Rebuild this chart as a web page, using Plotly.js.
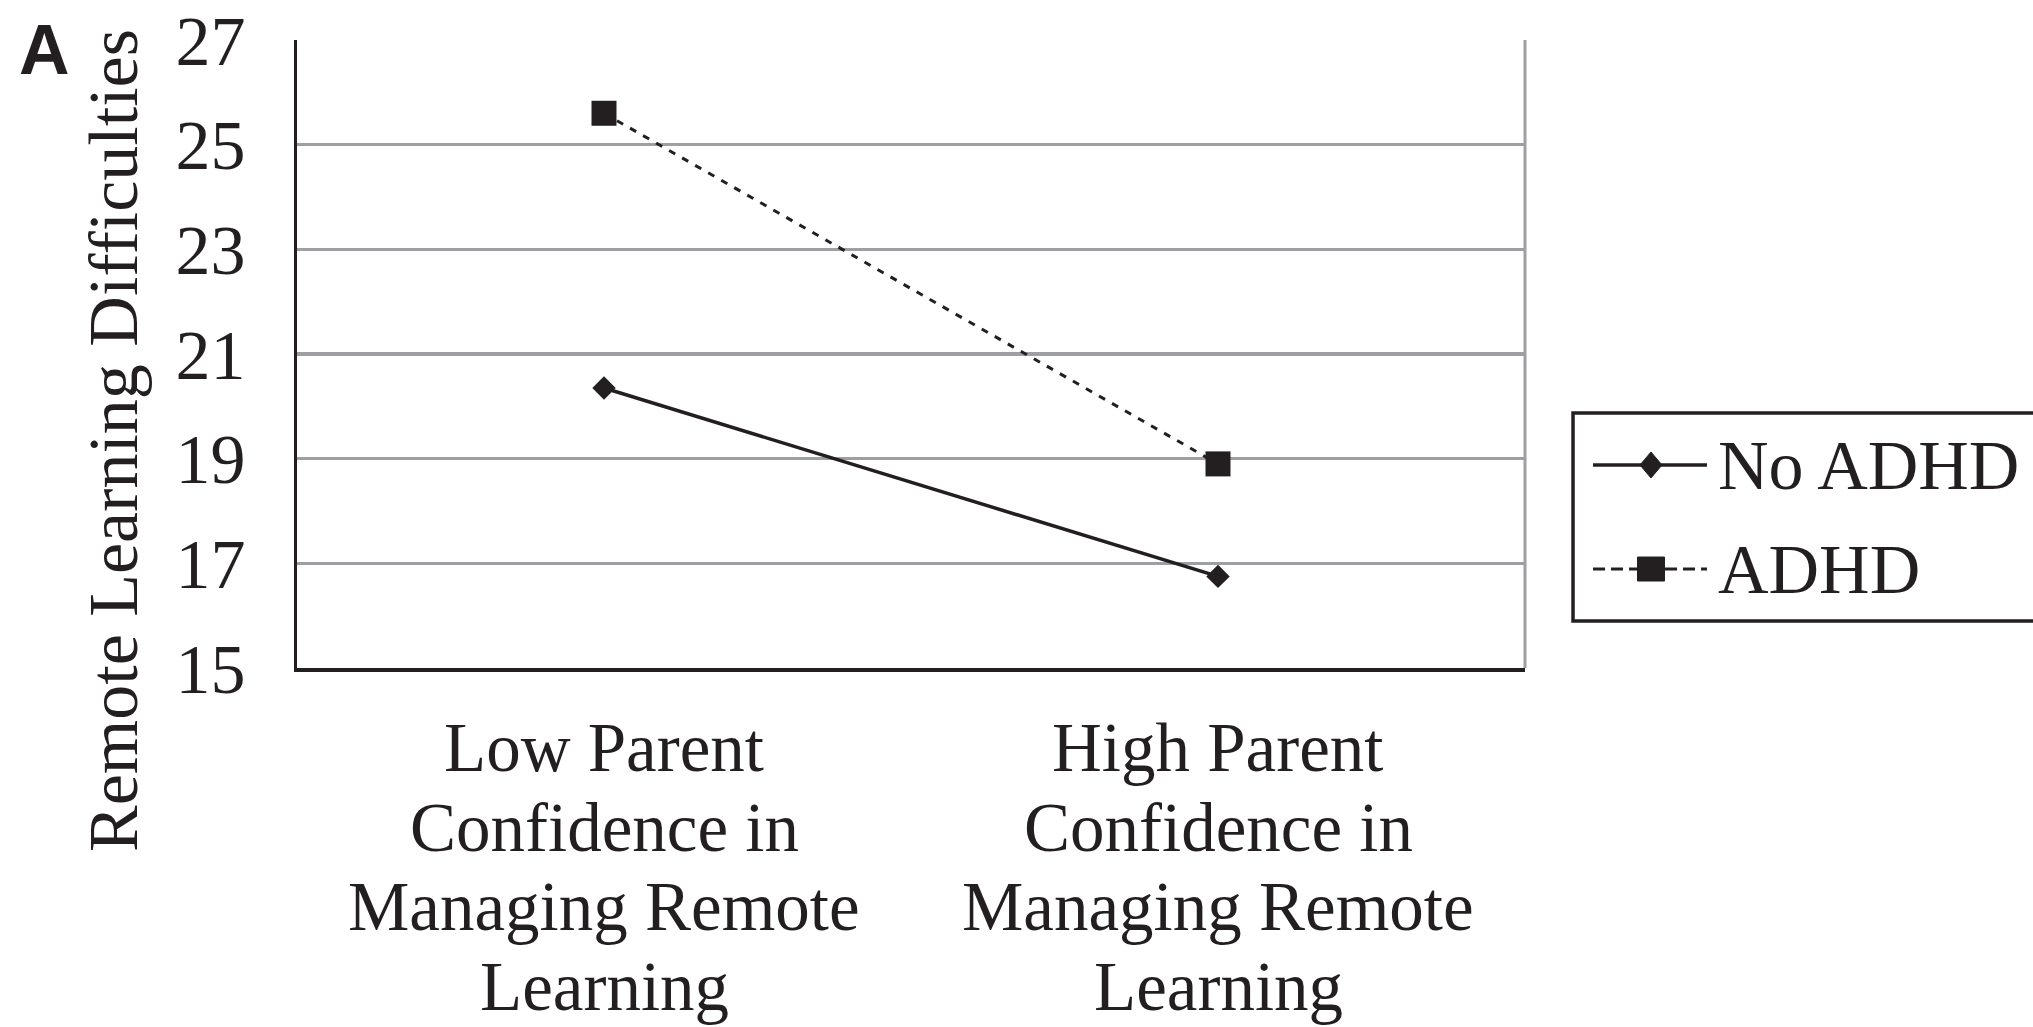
<!DOCTYPE html>
<html><head><meta charset="utf-8">
<script src="https://cdn.plot.ly/plotly-3.0.1.min.js"></script>
<style>html,body{margin:0;padding:0;background:#fff;}#chart{width:2033px;height:1027px;}</style>
</head><body><div id="chart"></div>
<script>
const categories = ["Low Parent<br>Confidence in<br>Managing Remote<br>Learning", "High Parent<br>Confidence in<br>Managing Remote<br>Learning"];
const seriesNames = ["No ADHD", "ADHD"];
const noAdhdValues = [20.35, 16.75];
const adhdValues = [25.6, 18.9];
const yTickValues = [15, 17, 19, 21, 23, 25, 27];
const yTitle = "Remote Learning Difficulties";
const panelLabel = "A";

const ink = "#231f20";
const grid = "#9d9fa2";
const serif = "Liberation Serif, Times New Roman, serif";

const traces = [
  {x: categories, y: noAdhdValues, name: seriesNames[0], type: "scatter", mode: "lines+markers",
   line: {color: ink, width: 3.5}, marker: {symbol: "diamond", size: 18, color: ink}},
  {x: categories, y: adhdValues, name: seriesNames[1], type: "scatter", mode: "lines+markers",
   line: {color: ink, width: 3, dash: "7px,8px"}, marker: {symbol: "square", size: 25, color: ink}}
];

// category labels: one annotation per text line (tight line spacing as in the original)
const annotations = [];
categories.forEach(function (cat) {
  cat.split("<br>").forEach(function (line, k) {
    annotations.push({text: line, xref: "x", yref: "paper", x: cat, y: 0, yshift: -(80 + 79.5 * k),
      xanchor: "center", yanchor: "middle", showarrow: false, font: {family: serif, size: 69, color: ink}});
  });
});
annotations.push({text: yTitle, textangle: -90, xref: "paper", yref: "paper", x: -0.149, y: 0.3615,
  xanchor: "center", yanchor: "middle", showarrow: false, font: {family: serif, size: 70, color: ink}});
annotations.push({text: "<b>" + panelLabel + "</b>", xref: "paper", yref: "paper", x: -0.228, y: 1.05,
  xanchor: "left", yanchor: "top", showarrow: false, font: {family: "Liberation Sans, Arial, sans-serif", size: 70, color: ink}});

// legend (drawn as a boxed key with long line samples like the original)
const legendRows = [0.3232, 0.1576];
const legendDash = ["solid", "12px,6px"];
const legendWidth = [3.5, 3];
const shapes = [
  {type: "line", xref: "paper", yref: "paper", x0: 1, x1: 1, y0: 0, y1: 1, layer: "below", line: {color: grid, width: 3}},
  {type: "rect", xref: "paper", yref: "paper", x0: 1.0391, x1: 1.43, y0: 0.0748, y1: 0.406, line: {color: ink, width: 3.5}, fillcolor: "rgba(0,0,0,0)"}
];
seriesNames.forEach(function (name, i) {
  shapes.push({type: "line", xref: "paper", yref: "paper", x0: 1.0554, x1: 1.1482, y0: legendRows[i], y1: legendRows[i],
    line: {color: ink, width: legendWidth[i], dash: legendDash[i]}});
  if (i === 0) {
    shapes.push({type: "path", xref: "paper", yref: "paper", xsizemode: "pixel", ysizemode: "pixel",
      xanchor: 1.1026, yanchor: legendRows[i], path: "M0,13 L11,0 L0,-13 L-11,0 Z",
      fillcolor: ink, line: {color: ink, width: 1}});
  } else {
    shapes.push({type: "rect", xref: "paper", yref: "paper", xsizemode: "pixel", ysizemode: "pixel",
      xanchor: 1.1026, yanchor: legendRows[i], x0: -13.5, x1: 13.5, y0: -12, y1: 12,
      fillcolor: ink, line: {color: ink, width: 1}});
  }
  annotations.push({text: name, xref: "paper", yref: "paper", x: 1.1555, y: legendRows[i], yshift: 0,
    xanchor: "left", yanchor: "middle", showarrow: false, font: {family: serif, size: 70, color: ink}});
});

const layout = {
  width: 2033, height: 1027,
  margin: {l: 297, r: 508, t: 40, b: 359},
  paper_bgcolor: "#fff", plot_bgcolor: "#fff",
  font: {family: serif, color: ink, size: 70},
  showlegend: false,
  xaxis: {type: "category", range: [-0.5, 1.5], showgrid: false, zeroline: false, showline: true,
          linecolor: ink, linewidth: 4, ticks: "", showticklabels: false},
  yaxis: {range: [15, 27], tickvals: yTickValues, showgrid: true, gridcolor: grid, gridwidth: 3.5,
          zeroline: false, showline: true, linecolor: ink, linewidth: 3.5, ticks: "",
          ticklabelstandoff: 34, tickfont: {family: serif, size: 70, color: ink}},
  shapes: shapes,
  annotations: annotations
};

Plotly.newPlot("chart", traces, layout, {displayModeBar: false, staticPlot: true});
</script>
</body></html>
